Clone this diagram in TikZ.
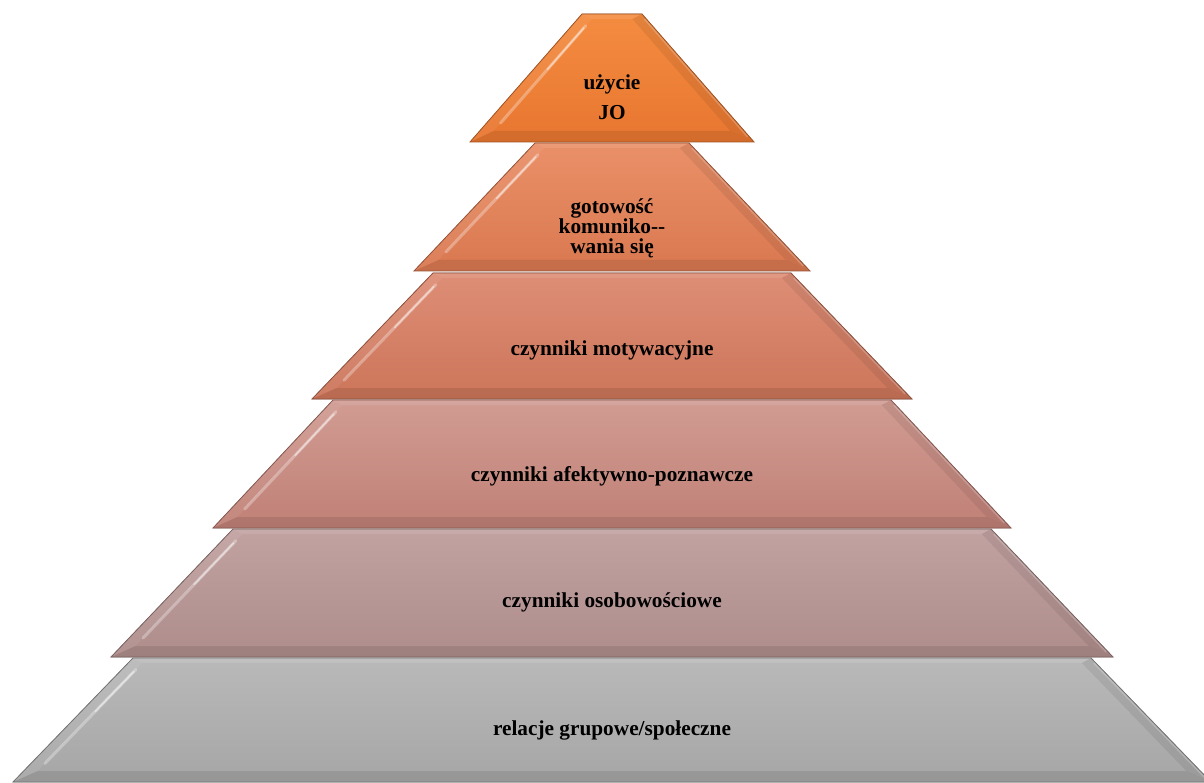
\documentclass[tikz,border=0pt]{standalone}
\usepackage{fontspec}
\setmainfont{Liberation Serif}
\usetikzlibrary{calc}
\definecolor{lAtop}{HTML}{F48C40}
\definecolor{lAbot}{HTML}{E87630}
\definecolor{lBtop}{HTML}{EA9068}
\definecolor{lBbot}{HTML}{D97850}
\definecolor{lCtop}{HTML}{DE8E76}
\definecolor{lCbot}{HTML}{CC755A}
\definecolor{lDtop}{HTML}{D19C93}
\definecolor{lDbot}{HTML}{C08076}
\definecolor{lEtop}{HTML}{C1A2A1}
\definecolor{lEbot}{HTML}{AE8D8B}
\definecolor{lFtop}{HTML}{B9B9B9}
\definecolor{lFbot}{HTML}{A6A6A6}
\tikzset{
  lvltext/.style={font=\fontsize{21.3}{20}\selectfont\bfseries, align=center, text=black, inner sep=0pt},
  lvledge/.style={line width=0.8pt, line join=miter},
}
% #1 top-left x, #2 top y, #3 bottom-left x, #4 bottom y, #5 top colour, #6 bottom colour, #7 name
\newcommand{\pyrlevel}[7]{%
  \pgfmathsetmacro{\pyrS}{(#1-#3)/(#4-#2)}%
  \pgfmathsetmacro{\pyrTR}{1224-#1}%
  \pgfmathsetmacro{\pyrBR}{1224-#3}%
  \pgfmathsetmacro{\pyrITY}{#2+5}%
  \pgfmathsetmacro{\pyrIBY}{#4-11}%
  \pgfmathsetmacro{\pyrITL}{#1-\pyrS*5+14}%
  \pgfmathsetmacro{\pyrIBL}{#3+\pyrS*11+14}%
  \pgfmathsetmacro{\pyrITR}{1224-\pyrITL}%
  \pgfmathsetmacro{\pyrIBR}{1224-\pyrIBL}%
  \coordinate (#7tl) at (#1,#2);
  \coordinate (#7tr) at (\pyrTR,#2);
  \coordinate (#7bl) at (#3,#4);
  \coordinate (#7br) at (\pyrBR,#4);
  \coordinate (#7itl) at (\pyrITL,\pyrITY);
  \coordinate (#7itr) at (\pyrITR,\pyrITY);
  \coordinate (#7ibl) at (\pyrIBL,\pyrIBY);
  \coordinate (#7ibr) at (\pyrIBR,\pyrIBY);
  \fill[top color=#5, bottom color=#6] (#7tl) -- (#7tr) -- (#7br) -- (#7bl) -- cycle;
  % bevel faces
  \fill[white, opacity=0.10] (#7tl) -- (#7tr) -- (#7itr) -- (#7itl) -- cycle;
  \fill[white, opacity=0.06] (#7tl) -- (#7bl) -- (#7ibl) -- (#7itl) -- cycle;
  \fill[black, opacity=0.07] (#7tr) -- (#7br) -- (#7ibr) -- (#7itr) -- cycle;
  \fill[black, opacity=0.09] (#7bl) -- (#7br) -- (#7ibr) -- (#7ibl) -- cycle;
  % highlights
  \draw[white, opacity=0.30, line width=3pt, line cap=round]
    ($(#7itl)!0.06!(#7ibl)$) -- ($(#7itl)!0.93!(#7ibl)$);
  \draw[white, opacity=0.45, line width=1.6pt, line cap=round]
    ($(#7itl)!0.08!(#7ibl)$) -- ($(#7itl)!0.45!(#7ibl)$);
  \draw[white, opacity=0.22, line width=1.5pt]
    ($(#7tr)!0.04!(#7br)+(-2,0)$) -- ($(#7tr)!0.96!(#7br)+(-2,0)$);
  % outline
  \draw[lvledge, draw=#6!70!black] (#7tl) -- (#7tr) -- (#7br) -- (#7bl) -- cycle;
}
\begin{document}
\begin{tikzpicture}[x=1pt, y=-1pt]
  \useasboundingbox (0,0) rectangle (1204,783);
  \fill[white] (0,0) rectangle (1204,783);
  \pyrlevel{133}{658}{13}{782}{lFtop}{lFbot}{lf}
  \pyrlevel{233}{529}{111}{657}{lEtop}{lEbot}{le}
  \pyrlevel{333}{400}{213}{528}{lDtop}{lDbot}{ld}
  \pyrlevel{433}{273}{312}{399}{lCtop}{lCbot}{lc}
  \pyrlevel{535}{143}{414}{271}{lBtop}{lBbot}{lb}
  \pyrlevel{582}{14}{470}{142}{lAtop}{lAbot}{la}
  \node[lvltext] (ta) at (612,97) {użycie\\[10pt]JO};
  \node[lvltext] (tb) at (612,228) {gotowość\\komuniko-{}-\\wania się};
  \node[lvltext] (tc) at (612,350) {czynniki motywacyjne};
  \node[lvltext] (td) at (612,476) {czynniki afektywno-poznawcze};
  \node[lvltext] (te) at (612,602) {czynniki osobowościowe};
  \node[lvltext] (tf) at (612,730) {relacje grupowe/społeczne};
\end{tikzpicture}
\end{document}
